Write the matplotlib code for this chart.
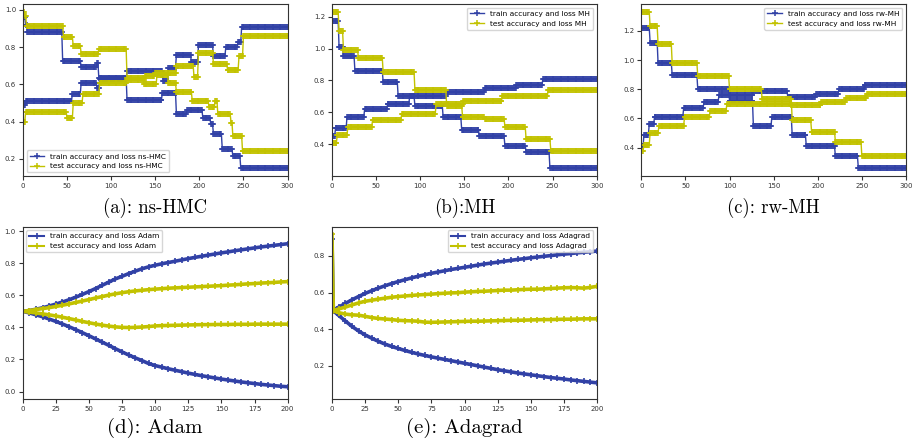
import numpy as np
import matplotlib
matplotlib.use("Agg")
import matplotlib.pyplot as plt

# ---- sampler runs (step curves), epoch where each level starts + level ----
# (a) ns-HMC
hmc_train_acc_x = [0, 3, 56, 66, 84, 87, 118, 159, 165, 174, 191, 199, 216, 230, 244, 248]
hmc_train_acc_y = [0.49, 0.51, 0.55, 0.61, 0.58, 0.63, 0.67, 0.62, 0.69, 0.76, 0.72, 0.81, 0.75, 0.80, 0.83, 0.91]
hmc_train_loss_x = [0, 3, 5, 45, 66, 84, 86, 118, 158, 174, 186, 204, 213, 216, 226, 238, 247]
hmc_train_loss_y = [0.96, 0.92, 0.88, 0.725, 0.695, 0.715, 0.635, 0.515, 0.555, 0.44, 0.46, 0.42, 0.385, 0.335, 0.255, 0.215, 0.15]
hmc_test_acc_x = [0, 3, 50, 57, 68, 87, 118, 138, 150, 174, 194, 199, 216, 232, 245, 250]
hmc_test_acc_y = [0.40, 0.45, 0.42, 0.50, 0.55, 0.61, 0.625, 0.645, 0.66, 0.70, 0.64, 0.77, 0.71, 0.68, 0.75, 0.86]
hmc_test_loss_x = [0, 2, 4, 46, 57, 66, 86, 118, 137, 152, 165, 174, 192, 211, 218, 221, 236, 238, 249]
hmc_test_loss_y = [0.99, 0.97, 0.915, 0.855, 0.805, 0.765, 0.79, 0.635, 0.60, 0.65, 0.605, 0.56, 0.51, 0.48, 0.51, 0.44, 0.395, 0.325, 0.24]

# (b) MH
mh_train_acc_x = [0, 4, 17, 37, 63, 88, 130, 173, 209, 239]
mh_train_acc_y = [0.45, 0.50, 0.57, 0.62, 0.65, 0.70, 0.73, 0.75, 0.77, 0.81]
mh_train_loss_x = [0, 8, 13, 26, 58, 75, 94, 126, 147, 167, 196, 220, 247]
mh_train_loss_y = [1.17, 1.01, 0.95, 0.86, 0.79, 0.70, 0.64, 0.57, 0.49, 0.45, 0.39, 0.35, 0.25]
mh_test_acc_x = [0, 6, 18, 46, 79, 118, 149, 193, 245]
mh_test_acc_y = [0.41, 0.46, 0.51, 0.55, 0.59, 0.65, 0.67, 0.70, 0.74]
mh_test_loss_x = [0, 8, 13, 30, 58, 94, 130, 148, 173, 196, 220, 248]
mh_test_loss_y = [1.23, 1.11, 0.99, 0.94, 0.85, 0.74, 0.64, 0.57, 0.56, 0.51, 0.43, 0.36]

# (c) rw-MH
rw_train_acc_x = [0, 3, 9, 15, 48, 71, 88, 127, 166, 198, 224, 253]
rw_train_acc_y = [0.41, 0.49, 0.56, 0.61, 0.67, 0.71, 0.76, 0.79, 0.75, 0.77, 0.80, 0.83]
rw_train_loss_x = [0, 10, 19, 35, 64, 100, 127, 148, 171, 187, 220, 246]
rw_train_loss_y = [1.22, 1.12, 0.98, 0.90, 0.80, 0.72, 0.55, 0.61, 0.49, 0.41, 0.34, 0.26]
rw_test_acc_x = [0, 3, 10, 20, 49, 78, 97, 170, 204, 232, 256]
rw_test_acc_y = [0.38, 0.42, 0.50, 0.55, 0.61, 0.65, 0.70, 0.69, 0.71, 0.74, 0.77]
rw_test_loss_x = [0, 10, 19, 35, 64, 100, 137, 171, 193, 220, 250]
rw_test_loss_y = [1.33, 1.23, 1.11, 0.98, 0.89, 0.80, 0.73, 0.59, 0.51, 0.44, 0.34]

# ---- optimiser runs, read every 5 epochs ----
opt_epochs = list(range(0, 201, 5))

adam_train_acc = [0.50, 0.505, 0.513, 0.522, 0.533, 0.545, 0.558, 0.572, 0.588, 0.605,
                  0.623, 0.642, 0.662, 0.682, 0.702, 0.718, 0.735, 0.75, 0.765, 0.777,
                  0.787, 0.796, 0.804, 0.812, 0.82, 0.828, 0.836, 0.843, 0.85, 0.857,
                  0.864, 0.87, 0.877, 0.883, 0.889, 0.895, 0.901, 0.906, 0.911, 0.916, 0.921]
adam_train_loss = [0.50, 0.49, 0.478, 0.466, 0.452, 0.437, 0.421, 0.404, 0.386, 0.367,
                   0.348, 0.328, 0.308, 0.288, 0.267, 0.247, 0.228, 0.21, 0.193, 0.175,
                   0.162, 0.152, 0.142, 0.133, 0.124, 0.115, 0.107, 0.099, 0.092, 0.085,
                   0.078, 0.072, 0.066, 0.06, 0.055, 0.05, 0.045, 0.041, 0.037, 0.033, 0.03]
adam_test_acc = [0.50, 0.505, 0.511, 0.517, 0.523, 0.53, 0.538, 0.546, 0.555, 0.564,
                 0.573, 0.583, 0.592, 0.601, 0.609, 0.616, 0.622, 0.627, 0.631, 0.635,
                 0.638, 0.641, 0.644, 0.646, 0.648, 0.65, 0.652, 0.654, 0.656, 0.658,
                 0.66, 0.663, 0.665, 0.668, 0.671, 0.673, 0.676, 0.678, 0.68, 0.683, 0.685]
adam_test_loss = [0.50, 0.495, 0.49, 0.484, 0.478, 0.471, 0.463, 0.455, 0.446, 0.437,
                  0.429, 0.421, 0.414, 0.408, 0.403, 0.40, 0.399, 0.40, 0.402, 0.405,
                  0.409, 0.411, 0.412, 0.413, 0.414, 0.415, 0.416, 0.417, 0.417, 0.418,
                  0.418, 0.418, 0.419, 0.419, 0.419, 0.42, 0.42, 0.42, 0.42, 0.42, 0.42]

ada_train_acc = [0.50, 0.52, 0.54, 0.56, 0.578, 0.595, 0.61, 0.624, 0.637, 0.649,
                 0.66, 0.67, 0.68, 0.689, 0.697, 0.705, 0.712, 0.719, 0.726, 0.732,
                 0.738, 0.744, 0.75, 0.756, 0.761, 0.766, 0.771, 0.776, 0.781, 0.785,
                 0.79, 0.794, 0.798, 0.802, 0.806, 0.81, 0.813, 0.817, 0.82, 0.823, 0.827]
ada_test_acc = [0.50, 0.51, 0.52, 0.532, 0.543, 0.552, 0.558, 0.564, 0.569, 0.574,
                0.578, 0.581, 0.584, 0.587, 0.589, 0.591, 0.594, 0.596, 0.598, 0.599,
                0.602, 0.604, 0.606, 0.607, 0.609, 0.611, 0.613, 0.613, 0.615, 0.617,
                0.618, 0.618, 0.62, 0.622, 0.624, 0.626, 0.627, 0.626, 0.624, 0.628, 0.634]
# losses also have epoch 1 (start spike at epoch 0)
ada_loss_epochs = [0, 1] + list(range(5, 201, 5))
ada_train_loss = [0.89, 0.50, 0.475, 0.445, 0.415, 0.39, 0.368, 0.35, 0.333, 0.318, 0.305,
                  0.294, 0.283, 0.273, 0.264, 0.256, 0.248, 0.241, 0.234, 0.227, 0.22,
                  0.213, 0.206, 0.199, 0.192, 0.185, 0.178, 0.172, 0.166, 0.16, 0.155,
                  0.15, 0.145, 0.14, 0.135, 0.131, 0.127, 0.122, 0.118, 0.114, 0.11, 0.106]
ada_test_loss = [0.92, 0.50, 0.49, 0.482, 0.478, 0.476, 0.47, 0.463, 0.458, 0.455, 0.452,
                 0.448, 0.446, 0.445, 0.443, 0.438, 0.437, 0.438, 0.439, 0.44, 0.441,
                 0.442, 0.443, 0.443, 0.444, 0.445, 0.446, 0.447, 0.448, 0.448, 0.449,
                 0.45, 0.451, 0.452, 0.452, 0.453, 0.454, 0.454, 0.455, 0.456, 0.456, 0.456]

BLUE = "#3141a6"
YELLOW = "#c2c200"
W, H = 919, 445


def steps(starts, levels, n=300):
    """Valor constante por epoca a partir dos inicios de cada patamar."""
    ep = np.arange(n + 1)
    idx = np.searchsorted(starts, ep, side="right") - 1
    return ep, np.asarray(levels)[idx]


def rect(l, t, r, b):
    return [l / W, 1 - b / H, (r - l) / W, (b - t) / H]


def style(ax):
    ax.tick_params(labelsize=5, length=3, width=0.8, colors="#333333", pad=2)
    for s in ax.spines.values():
        s.set_linewidth(0.8)
        s.set_color("#333333")


fig = plt.figure(figsize=(W / 100, H / 100), dpi=100)

kw = dict(marker="+", markersize=4.2, markeredgewidth=1.1, linewidth=1.0)
top = [
    ("ns-HMC", rect(23, 4, 287.5, 176), "lower left",
     (hmc_train_acc_x, hmc_train_acc_y), (hmc_train_loss_x, hmc_train_loss_y),
     (hmc_test_acc_x, hmc_test_acc_y), (hmc_test_loss_x, hmc_test_loss_y),
     "(a): ns-HMC"),
    ("MH", rect(332, 4, 596.7, 176), "upper right",
     (mh_train_acc_x, mh_train_acc_y), (mh_train_loss_x, mh_train_loss_y),
     (mh_test_acc_x, mh_test_acc_y), (mh_test_loss_x, mh_test_loss_y),
     "(b):MH"),
    ("rw-MH", rect(641.3, 4, 906, 176), "upper right",
     (rw_train_acc_x, rw_train_acc_y), (rw_train_loss_x, rw_train_loss_y),
     (rw_test_acc_x, rw_test_acc_y), (rw_test_loss_x, rw_test_loss_y),
     "(c): rw-MH"),
]
for name, r, loc, tra, trl, tea, tel, cap in top:
    ax = fig.add_axes(r)
    ax.plot(*steps(*tra), color=BLUE, label=f"train accuracy and loss {name}", **kw)
    ax.plot(*steps(*trl), color=BLUE, **kw)
    ax.plot(*steps(*tea), color=YELLOW, label=f"test accuracy and loss {name}", **kw)
    ax.plot(*steps(*tel), color=YELLOW, **kw)
    ax.set_xlim(0, 300)
    ax.set_xticks(range(0, 301, 50))
    style(ax)
    ax.legend(loc=loc, fontsize=5.3)
    cx = (r[0] + r[2] / 2)
    fig.text(cx, 1 - 208 / H, cap, family="cmr10", fontsize=13.5, ha="center", va="center")

kw2 = dict(marker="+", markersize=5, markeredgewidth=1.2, linewidth=2.6)
bottom = [
    ("Adam", rect(22.7, 226.7, 287.7, 399.3), "upper left", (-0.048, 1.027),
     opt_epochs, adam_train_acc, adam_test_acc, opt_epochs, adam_train_loss, adam_test_loss,
     "(d): Adam"),
    ("Adagrad", rect(332, 226.7, 597, 399.3), "upper right", (0.016, 0.96),
     opt_epochs, ada_train_acc, ada_test_acc, ada_loss_epochs, ada_train_loss, ada_test_loss,
     "(e): Adagrad"),
]
for name, r, loc, ylim, ex, tra, tea, lx, trl, tel, cap in bottom:
    ax = fig.add_axes(r)
    ax.plot(ex, tra, color=BLUE, label=f"train accuracy and loss {name}", **kw2)
    ax.plot(lx, trl, color=BLUE, **kw2)
    ax.plot(ex, tea, color=YELLOW, label=f"test accuracy and loss {name}", **kw2)
    ax.plot(lx, tel, color=YELLOW, **kw2)
    ax.set_xlim(0, 200)
    ax.set_ylim(*ylim)
    ax.set_xticks(range(0, 201, 25))
    style(ax)
    leg = ax.legend(loc=loc, fontsize=5.3)
    for line in leg.get_lines():
        line.set_linewidth(1.5)
    cx = (r[0] + r[2] / 2)
    fig.text(cx, 1 - 428 / H, cap, family="cmr10", fontsize=15, ha="center", va="center")

fig.savefig("out.png", dpi=100)
